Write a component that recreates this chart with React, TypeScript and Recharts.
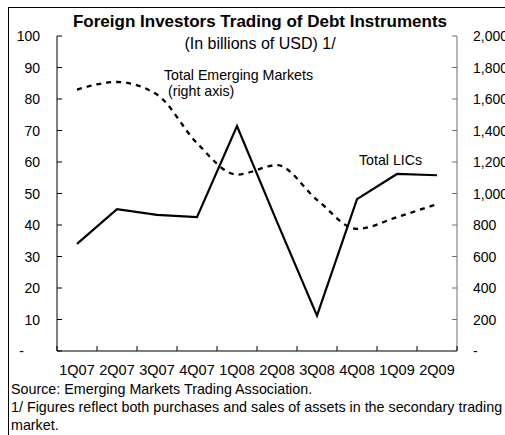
import React from 'react';
import { LineChart, Line, XAxis, YAxis } from 'recharts';

const categories = ['1Q07', '2Q07', '3Q07', '4Q07', '1Q08', '2Q08', '3Q08', '4Q08', '1Q09', '2Q09'];
const totalLICs = [34, 45, 43.2, 42.5, 71.4, 41, 11.2, 48.2, 56.2, 55.8];
const totalEmergingMarkets = [1660, 1708, 1628, 1320, 1120, 1180, 960, 775, 850, 933];
const leftTicks = [0, 10, 20, 30, 40, 50, 60, 70, 80, 90, 100];
const rightTicks = [0, 200, 400, 600, 800, 1000, 1200, 1400, 1600, 1800, 2000];

const data = categories.map((q, i) => ({ q, lic: totalLICs[i], em: totalEmergingMarkets[i] }));

const FONT = "'Liberation Sans', Arial, sans-serif";
const HALF_BAND = 20;

const fmtRight = (v: number) => (v === 0 ? '-' : v.toLocaleString('en-US'));

const LeftTick = (props: any) => {
  const { x, y, payload } = props;
  const v = payload.value;
  return (
    <g>
      <line x1={x} x2={x + 5} y1={y} y2={y} stroke="#000" strokeWidth={1} />
      <text x={v === 0 ? x - 33 : x - 17} y={y} dy="0.36em" textAnchor="end" fontSize={14} fill="#000" fontFamily={FONT}>
        {v === 0 ? '-' : String(v)}
      </text>
    </g>
  );
};

const RightTick = (props: any) => {
  const { x, y, payload } = props;
  const v = payload.value;
  return (
    <g>
      <line x1={x - 5} x2={x} y1={y} y2={y} stroke="#707070" strokeWidth={1} />
      <text x={x + 16} y={y} dy="0.36em" textAnchor="start" fontSize={14} fill="#000" fontFamily={FONT}>
        {fmtRight(v)}
      </text>
    </g>
  );
};

const BottomTick = (props: any) => {
  const { x, y, payload, index } = props;
  const last = index === categories.length - 1;
  return (
    <g>
      <line x1={x - HALF_BAND} x2={x - HALF_BAND} y1={y - 5} y2={y} stroke="#000" strokeWidth={1} />
      {last && <line x1={x + HALF_BAND} x2={x + HALF_BAND} y1={y - 5} y2={y} stroke="#000" strokeWidth={1} />}
      <text x={x} y={y + 24} textAnchor="middle" fontSize={14.5} fill="#000" fontFamily={FONT}>
        {payload.value}
      </text>
    </g>
  );
};

export default function App() {
  return (
    <div style={{ position: 'absolute', left: 0, top: 0, width: 505, height: 435, overflow: 'hidden', background: '#fff' }}>
      <div style={{ position: 'absolute', left: 8, top: 7, width: 540, height: 470, border: '1px solid #000', boxSizing: 'border-box' }} />
      <div style={{ position: 'absolute', left: 0, top: 0 }}>
        <LineChart width={505} height={435} data={data} margin={{ top: 36, right: 0, bottom: 0, left: 0 }}>
          <XAxis
            dataKey="q"
            height={84}
            padding={{ left: HALF_BAND, right: HALF_BAND }}
            axisLine={{ stroke: '#000', strokeWidth: 1 }}
            tickLine={false}
            tickSize={0}
            tickMargin={0}
            interval={0}
            tick={<BottomTick />}
          />
          <YAxis
            yAxisId="left"
            orientation="left"
            width={57}
            domain={[0, 100]}
            ticks={leftTicks}
            interval={0}
            axisLine={{ stroke: '#000', strokeWidth: 1 }}
            tickLine={false}
            tickSize={0}
            tickMargin={0}
            tick={<LeftTick />}
          />
          <YAxis
            yAxisId="right"
            orientation="right"
            width={48}
            domain={[0, 2000]}
            ticks={rightTicks}
            interval={0}
            axisLine={{ stroke: '#707070', strokeWidth: 1 }}
            tickLine={false}
            tickSize={0}
            tickMargin={0}
            tick={<RightTick />}
          />
          <Line
            yAxisId="right"
            dataKey="em"
            type="monotone"
            stroke="#000"
            strokeWidth={2.3}
            strokeDasharray="5 5"
            dot={false}
            isAnimationActive={false}
          />
          <Line
            yAxisId="left"
            dataKey="lic"
            type="linear"
            stroke="#000"
            strokeWidth={2.2}
            dot={false}
            isAnimationActive={false}
          />
        </LineChart>
      </div>
      <svg width={505} height={435} style={{ position: 'absolute', left: 0, top: 0, pointerEvents: 'none' }} fontFamily={FONT}>
        <text x={260} y={27} textAnchor="middle" fontSize={17} fontWeight="bold" fill="#000">
          Foreign Investors Trading of Debt Instruments
        </text>
        <text x={260} y={49} textAnchor="middle" fontSize={16} fill="#000">
          (In billions of USD) 1/
        </text>
        <text x={164} y={80} fontSize={14.2} fill="#000">Total Emerging Markets</text>
        <text x={168} y={96} fontSize={14.2} fill="#000">(right axis)</text>
        <text x={359} y={165} fontSize={14.2} fill="#000">Total LICs</text>
        <text x={11} y={394} fontSize={14.3} fill="#000">Source: Emerging Markets Trading Association.</text>
        <text x={11} y={412} fontSize={14.3} fill="#000">1/ Figures reflect both purchases and sales of assets in the secondary trading</text>
        <text x={11} y={430} fontSize={14.3} fill="#000">market.</text>
      </svg>
    </div>
  );
}
